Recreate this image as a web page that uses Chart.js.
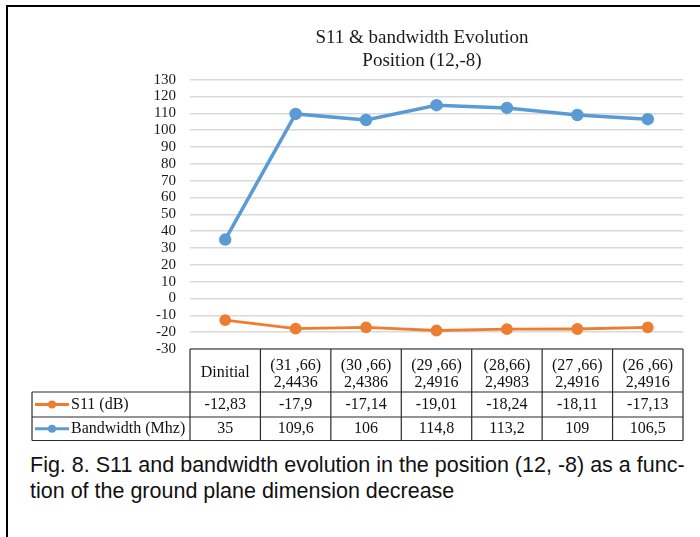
<!DOCTYPE html>
<html>
<head>
<meta charset="utf-8">
<script src="https://cdn.jsdelivr.net/npm/chart.js@4/dist/chart.umd.min.js"></script>
<style>
  html, body { margin: 0; padding: 0; background: #fff; }
  body { width: 700px; height: 537px; position: relative; overflow: hidden; }
  #frameTop { position: absolute; left: 6px; top: 5px; width: 694px; height: 2px; background: #000; }
  #frameLeft { position: absolute; left: 6px; top: 5px; width: 2px; height: 532px; background: #000; }
  #chartBox { position: absolute; left: 0; top: 0; width: 700px; height: 445px; }
  #caption {
    position: absolute; left: 30px; top: 452px;
    font-family: "Liberation Sans", Arial, sans-serif; font-size: 21.5px; line-height: 26px;
    color: #111; white-space: nowrap;
  }
</style>
</head>
<body>
<div id="chartBox"><canvas id="chart" width="700" height="445"></canvas></div>
<div id="frameTop"></div>
<div id="frameLeft"></div>
<div id="caption">Fig. 8. S11 and bandwidth evolution in the position (12, -8) as a func-<br>tion of the ground plane dimension decrease</div>
<script>
// Ground plane steps: dimensions (first line) and resonant frequency (second line)
const categories = [
  ["Dinitial"],
  ["(31 ,66)", "2,4436"],
  ["(30 ,66)", "2,4386"],
  ["(29 ,66)", "2,4916"],
  ["(28,66)", "2,4983"],
  ["(27 ,66)", "2,4916"],
  ["(26 ,66)", "2,4916"]
];
const s11Values = [-12.83, -17.9, -17.14, -19.01, -18.24, -18.11, -17.13];
const bandwidthValues = [35, 109.6, 106, 114.8, 113.2, 109, 106.5];
const seriesNames = ["S11 (dB)", "Bandwidth (Mhz)"];
const yMin = -30, yMax = 130, yStep = 10;

const ORANGE = "#ED7D31";
const BLUE = "#5B9BD5";
const SERIF = '"Liberation Serif", "Times New Roman", serif';

const fmt = v => String(v).replace(".", ",");

// Data table under the plot, aligned on the category scale
const dataTablePlugin = {
  id: "dataTable",
  afterDraw(chart) {
    const ctx = chart.ctx;
    const xs = chart.scales.x;
    const area = chart.chartArea;
    const half = (xs.getPixelForValue(1) - xs.getPixelForValue(0)) / 2;
    const top = area.bottom;
    const headerBottom = top + 43;
    const row1Bottom = headerBottom + 25;
    const row2Bottom = row1Bottom + 23.5;
    const legendLeft = area.left - 158;

    ctx.save();
    ctx.strokeStyle = "#2b2b2b";
    ctx.lineWidth = 1.2;
    ctx.beginPath();
    // header row outline
    ctx.moveTo(area.left, top); ctx.lineTo(area.right, top);
    ctx.moveTo(area.left, top); ctx.lineTo(area.left, row2Bottom);
    // series rows outline
    ctx.moveTo(legendLeft, headerBottom); ctx.lineTo(area.right, headerBottom);
    ctx.moveTo(legendLeft, row1Bottom); ctx.lineTo(area.right, row1Bottom);
    ctx.moveTo(legendLeft, row2Bottom); ctx.lineTo(area.right, row2Bottom);
    ctx.moveTo(legendLeft, headerBottom); ctx.lineTo(legendLeft, row2Bottom);
    categories.forEach((c, i) => {
      const xr = xs.getPixelForValue(i) + half;
      ctx.moveTo(xr, top); ctx.lineTo(xr, row2Bottom);
    });
    ctx.stroke();

    ctx.fillStyle = "#111";
    ctx.font = "16px " + SERIF;
    ctx.textAlign = "center";
    ctx.textBaseline = "middle";
    categories.forEach((c, i) => {
      const x = xs.getPixelForValue(i);
      if (c.length === 1) {
        ctx.fillText(c[0], x, (top + headerBottom) / 2 + 2.5);
      } else {
        ctx.fillText(c[0], x, top + 16.5);
        ctx.fillText(c[1], x, top + 34);
      }
    });
    const rows = [
      { y: (headerBottom + row1Bottom) / 2, ds: chart.data.datasets[0] },
      { y: (row1Bottom + row2Bottom) / 2, ds: chart.data.datasets[1] }
    ];
    rows.forEach(r => {
      r.ds.data.forEach((v, i) => {
        ctx.fillText(fmt(v), xs.getPixelForValue(i), r.y);
      });
      // legend key
      ctx.strokeStyle = r.ds.borderColor;
      ctx.lineWidth = 3;
      ctx.beginPath();
      ctx.moveTo(legendLeft + 3, r.y); ctx.lineTo(legendLeft + 37, r.y);
      ctx.stroke();
      ctx.fillStyle = r.ds.borderColor;
      ctx.beginPath();
      ctx.arc(legendLeft + 20, r.y, 4, 0, Math.PI * 2);
      ctx.fill();
      ctx.fillStyle = "#111";
      ctx.textAlign = "left";
      ctx.fillText(r.ds.label, legendLeft + 39, r.y);
      ctx.textAlign = "center";
    });
    ctx.restore();
  }
};

new Chart(document.getElementById("chart"), {
  type: "line",
  data: {
    labels: categories,
    datasets: [
      {
        label: seriesNames[0], data: s11Values,
        borderColor: ORANGE, backgroundColor: ORANGE,
        pointBackgroundColor: ORANGE, pointBorderColor: ORANGE,
        borderWidth: 2.8, pointRadius: 4.5, tension: 0
      },
      {
        label: seriesNames[1], data: bandwidthValues,
        borderColor: BLUE, backgroundColor: BLUE,
        pointBackgroundColor: BLUE, pointBorderColor: BLUE,
        borderWidth: 3.5, pointRadius: 4.5, tension: 0
      }
    ]
  },
  options: {
    responsive: false,
    animation: false,
    events: [],
    layout: { padding: { left: 144, right: 0, top: 0, bottom: 0 } },
    plugins: {
      legend: { display: false },
      tooltip: { enabled: false },
      title: {
        display: true,
        text: ["S11 & bandwidth Evolution", "Position (12,-8)"],
        color: "#1a1a1a",
        font: { family: SERIF, size: 19, weight: "normal", lineHeight: 1.2 },
        padding: { top: 27, bottom: 7 }
      }
    },
    scales: {
      x: {
        type: "category",
        offset: true,
        grid: { display: false },
        border: { display: false },
        ticks: { display: false },
        afterFit(s) { s.height = 96; }
      },
      y: {
        min: yMin, max: yMax,
        ticks: {
          stepSize: yStep,
          autoSkip: false,
          color: "#1a1a1a",
          font: { family: SERIF, size: 15 },
          padding: 14
        },
        grid: { color: "#d9d9d9", lineWidth: 1.5, drawTicks: false },
        border: { display: false },
        afterFit(s) { s.width = 46; }
      },
      // empty right margin axis, keeps the plot clear of the right edge
      yRight: {
        position: "right",
        min: yMin, max: yMax,
        grid: { display: false },
        border: { display: false },
        ticks: { display: false },
        afterFit(s) { s.width = 17; }
      }
    }
  },
  plugins: [dataTablePlugin]
});
</script>
</body>
</html>
